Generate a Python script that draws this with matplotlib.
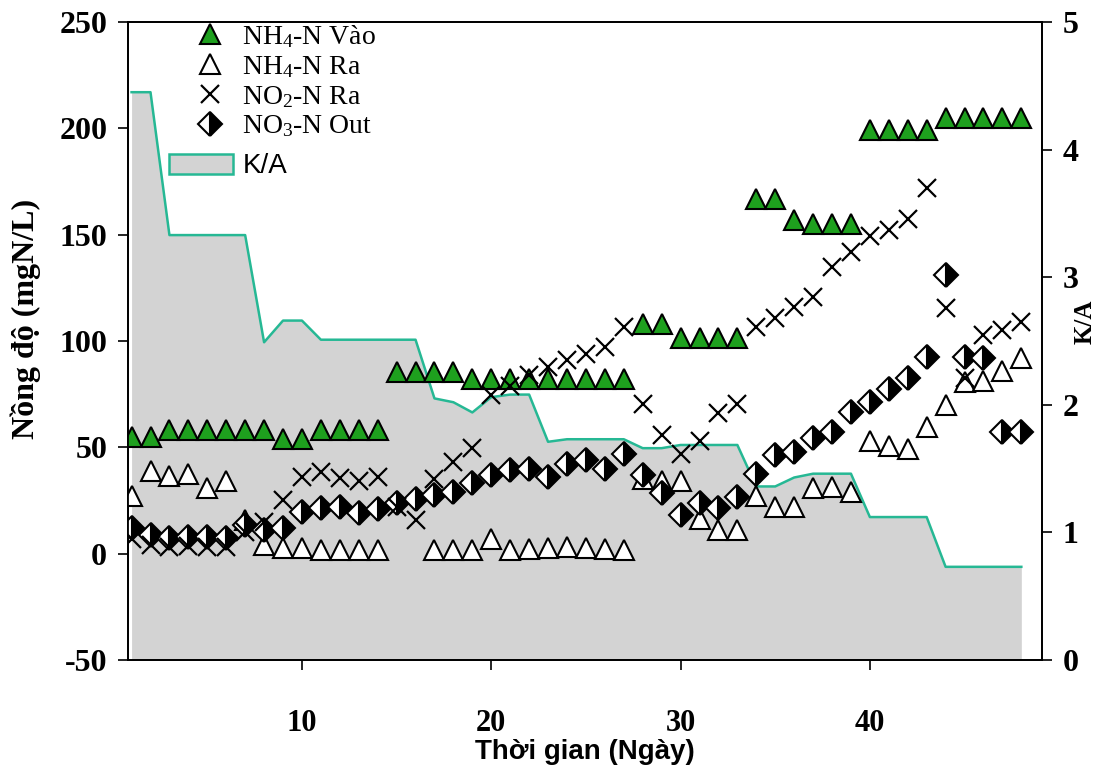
import numpy as np
import matplotlib.pyplot as plt
import matplotlib as mpl
from matplotlib.lines import Line2D
from matplotlib.patches import Patch

mpl.rcParams['mathtext.fontset'] = 'custom'
mpl.rcParams['mathtext.rm'] = 'Liberation Serif'
mpl.rcParams['mathtext.it'] = 'Liberation Serif:italic'
mpl.rcParams['axes.unicode_minus'] = False

days = np.arange(1, 49)

nh4_in = [55, 55, 58, 58, 58, 58, 58, 58, 54, 54, 58, 58, 58, 58,
          85.5, 85.5, 85.5, 85.5, 82, 82, 82, 82, 82, 82, 82, 82, 82,
          108, 108, 101.5, 101.5, 101.5, 101.5, 167, 167, 157, 155, 155, 155,
          199, 199, 199, 199, 205, 205, 205, 205, 205]

nh4_out = [27, 39, 36.5, 37.5, 31, 34, 16, 4, 2.5, 2.5, 1.5, 1.5, 1.5, 1.5,
           np.nan, np.nan, 1.5, 1.5, 1.5, 7, 1.5, 2, 2.5, 3, 2.5, 2, 1.5,
           35, 34, 34, 16.5, 11, 11, 27, 22, 22, 31, 31.5, 29,
           53, 50.5, 49, 59.5, 70, 80.5, 81, 86, 92]

no2_out = [7, 4, 3, 3.5, 3, 3, 10, 15, 25, 36, 38.5, 35.5, 34, 36,
           22, 16, 35, 43, 49.5, 74.5, 79, 84, 88, 91, 94, 97, 106.5,
           70.5, 56, 47, 53, 66, 70.5, 106.5, 111, 116, 120.5, 135, 142,
           149.5, 152, 157.5, 172, 115.5, 82.5, 103, 105, 109]

no3_out = [12, 9, 7.5, 8, 8, 7.5, 13.5, 11, 12, 19.5, 21.5, 22, 19, 21,
           24, 25.5, 27.5, 29, 33, 37, 39.5, 40, 36, 42, 44, 40, 47,
           37, 28.5, 18, 24, 21.5, 26.5, 37.5, 46.5, 48, 54.5, 57, 66.5,
           71.5, 77.5, 82.5, 92.5, 131, 92.5, 92, 57, 57]

ka = [4.45, 4.45, 3.33, 3.33, 3.33, 3.33, 3.33, 2.49, 2.66, 2.66, 2.51, 2.51,
      2.51, 2.51, 2.51, 2.51, 2.05, 2.02, 1.94, 2.06, 2.08, 2.08, 1.71, 1.73,
      1.73, 1.73, 1.73, 1.66, 1.66, 1.685, 1.685, 1.685, 1.685, 1.36, 1.36,
      1.43, 1.46, 1.46, 1.46, 1.12, 1.12, 1.12, 1.12, 0.73, 0.73, 0.73, 0.73, 0.73]

green = '#1ea01e'
teal = '#26b894'
gray = '#d3d3d3'

fig = plt.figure(figsize=(11.08, 7.70), dpi=100)
ax = fig.add_axes([0.1155, 0.1429, 0.8249, 0.8285])
ax2 = ax.twinx()

# K/A area on the right axis, kept behind the markers
ax2.fill_between(days, ka, 0, color=gray, lw=0)
ax2.plot(days, ka, color=teal, lw=1.8)
ax2.set_ylim(0, 5)
ax.set_zorder(ax2.get_zorder() + 1)
ax.patch.set_visible(False)

ax.plot(days, nh4_in, ls='none', marker='^', ms=14, mfc=green, mec='black', mew=1.5)
ax.plot(days, nh4_out, ls='none', marker='^', ms=14, mfc='white', mec='black', mew=1.5)
ax.plot(days, no3_out, ls='none', marker='D', ms=12, fillstyle='right',
        mfc='black', mfcalt='white', mec='black', mew=1.5)
ax.plot(days, no2_out, ls='none', marker='x', ms=13, color='black', mew=1.6)

ax.set_xlim(0.81, 49.09)
ax.set_ylim(-50, 250)
ax.set_xticks([10, 20, 30, 40])
ax.set_yticks(np.arange(-50, 251, 50))
ax2.set_yticks(np.arange(0, 6, 1))

for lab in ax.get_yticklabels() + ax2.get_yticklabels():
    lab.set_fontfamily('Liberation Serif')
    lab.set_fontweight('bold')
    lab.set_fontsize(23)
for lab in ax.get_xticklabels():
    lab.set_fontfamily('Liberation Serif')
    lab.set_fontweight('bold')
    lab.set_fontsize(22)

ax.tick_params(axis='y', direction='out', length=7, width=1.2, pad=8)
ax.tick_params(axis='x', direction='out', length=7, width=1.2, pad=28)
ax2.tick_params(axis='y', direction='out', length=7, width=1.2, pad=8)
for a in (ax, ax2):
    for s in a.spines.values():
        s.set_linewidth(1.3)

ax.set_xlabel('Thời gian (Ngày)', family='Liberation Sans', weight='bold',
              fontsize=20)
ax.xaxis.set_label_coords(0.5, -0.124)
ax.set_ylabel('Nồng độ (mgN/L)', family='Liberation Serif', weight='bold',
              fontsize=23)
ax.yaxis.set_label_coords(-0.095, 0.535)
ax2.set_ylabel('K/A', family='Liberation Serif', weight='bold', fontsize=18)
ax2.yaxis.set_label_coords(1.035, 0.53)

marker_handles = [
    Line2D([], [], ls='none', marker='^', ms=14, mfc=green, mec='black', mew=1.5),
    Line2D([], [], ls='none', marker='^', ms=14, mfc='white', mec='black', mew=1.5),
    Line2D([], [], ls='none', marker='x', ms=13, color='black', mew=1.6),
    Line2D([], [], ls='none', marker='D', ms=12, fillstyle='right',
           mfc='black', mfcalt='white', mec='black', mew=1.5),
]
marker_labels = ['NH$_4$-N Vào', 'NH$_4$-N Ra', 'NO$_2$-N Ra', 'NO$_3$-N Out']
leg = ax.legend(marker_handles, marker_labels, loc='upper left',
                bbox_to_anchor=(0.07, 0.998), frameon=False, borderpad=0,
                borderaxespad=0, handlelength=1.3, handletextpad=0.5,
                labelspacing=0.14, prop={'family': 'Liberation Serif', 'size': 20})
ax.add_artist(leg)
ax.legend([Patch(facecolor=gray, edgecolor=teal, lw=1.8)], ['K/A'],
          loc='upper left', bbox_to_anchor=(0.045, 0.794), frameon=False,
          borderpad=0, borderaxespad=0, handlelength=2.3, handleheight=0.75,
          handletextpad=0.35, prop={'family': 'Liberation Sans', 'size': 20})

fig.savefig('out.png', dpi=100)
